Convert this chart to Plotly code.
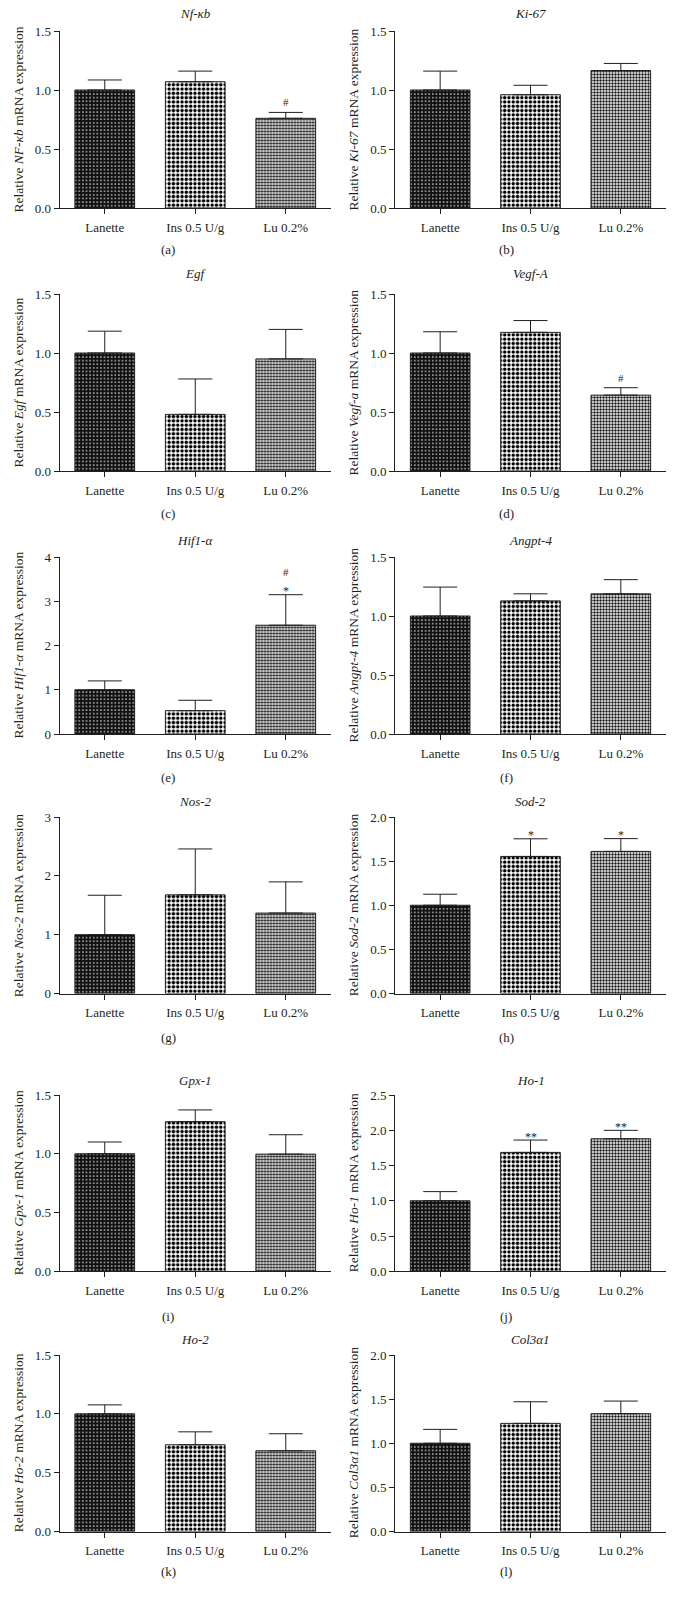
import plotly.graph_objects as go

# ---------------- data ----------------
categories = ["Lanette", "Ins 0.5 U/g", "Lu 0.2%"]

titles = ["Nf-κb", "Ki-67", "Egf", "Vegf-A", "Hif1-α", "Angpt-4",
          "Nos-2", "Sod-2", "Gpx-1", "Ho-1", "Ho-2", "Col3α1"]
ylabel_genes = ["NF-κb", "Ki-67", "Egf", "Vegf-a", "Hif1-α", "Angpt-4",
                "Nos-2", "Sod-2", "Gpx-1", "Ho-1", "Ho-2", "Col3α1"]
panel_letters = ["(a)", "(b)", "(c)", "(d)", "(e)", "(f)",
                 "(g)", "(h)", "(i)", "(j)", "(k)", "(l)"]

mean_nfkb = [1.00, 1.07, 0.76]
sem_nfkb = [0.085, 0.09, 0.05]
mean_ki67 = [1.00, 0.96, 1.165]
sem_ki67 = [0.16, 0.08, 0.06]
mean_egf = [1.00, 0.48, 0.95]
sem_egf = [0.185, 0.30, 0.25]
mean_vegfa = [1.00, 1.175, 0.643]
sem_vegfa = [0.18, 0.10, 0.063]
mean_hif1a = [1.00, 0.527, 2.458]
sem_hif1a = [0.20, 0.235, 0.69]
mean_angpt4 = [1.00, 1.128, 1.188]
sem_angpt4 = [0.245, 0.06, 0.12]
mean_nos2 = [1.00, 1.677, 1.367]
sem_nos2 = [0.67, 0.78, 0.53]
mean_sod2 = [1.00, 1.553, 1.61]
sem_sod2 = [0.125, 0.20, 0.145]
mean_gpx1 = [1.00, 1.273, 0.997]
sem_gpx1 = [0.10, 0.10, 0.165]
mean_ho1 = [1.00, 1.686, 1.879]
sem_ho1 = [0.13, 0.175, 0.12]
mean_ho2 = [1.00, 0.737, 0.686]
sem_ho2 = [0.076, 0.11, 0.145]
mean_col3a1 = [1.00, 1.225, 1.335]
sem_col3a1 = [0.157, 0.245, 0.143]

sig_nfkb = [[], [], ["#"]]
sig_vegfa = [[], [], ["#"]]
sig_hif1a = [[], [], ["*", "#"]]
sig_sod2 = [[], ["*"], ["*"]]
sig_ho1 = [[], ["**"], ["**"]]
sig_none = [[], [], []]

y_max = [1.5, 1.5, 1.5, 1.5, 4, 1.5, 3, 2.0, 1.5, 2.5, 1.5, 2.0]
y_step = [0.5, 0.5, 0.5, 0.5, 1, 0.5, 1, 0.5, 0.5, 0.5, 0.5, 0.5]

means = [mean_nfkb, mean_ki67, mean_egf, mean_vegfa, mean_hif1a, mean_angpt4,
         mean_nos2, mean_sod2, mean_gpx1, mean_ho1, mean_ho2, mean_col3a1]
sems = [sem_nfkb, sem_ki67, sem_egf, sem_vegfa, sem_hif1a, sem_angpt4,
        sem_nos2, sem_sod2, sem_gpx1, sem_ho1, sem_ho2, sem_col3a1]
sigs = [sig_nfkb, sig_none, sig_none, sig_vegfa, sig_hif1a, sig_none,
        sig_none, sig_sod2, sig_none, sig_ho1, sig_none, sig_none]

# ---------------- layout geometry (pixels) ----------------
W, H = 675, 1601
FONT = "Liberation Serif"
INK = "#231f20"
col_x = [(59.5, 331.0), (395.0, 666.0)]
row_y = [(31, 208), (294, 471), (557, 734), (817, 993.5), (1095, 1271.3), (1355, 1531.5)]
title_y = [13, 273, 540, 801, 1080, 1339]
label_y = [250, 513, 777, 1037, 1316, 1571]
label_x = [168, 506]
ytitle_x = [18, 353]


def px(x):
    return x / W


def py(y):
    return 1 - y / H


fig = go.Figure()
annotations = []

pat_shape = [".", ".", "."]
pat_bg = ["#111111", "#ffffff", "#ffffff"]
pat_fg = ["#ffffff", "#000000", "#1a1a1a"]
pat_size = [3.6, 4.3, 3]
pat_sol = [0.14, 0.5, 0.5]

for i in range(12):
    r, c = divmod(i, 2)
    n = i + 1
    xa = "x" if n == 1 else f"x{n}"
    ya = "y" if n == 1 else f"y{n}"
    fig.add_trace(go.Bar(
        x=categories, y=means[i], xaxis=xa, yaxis=ya,
        marker=dict(color="white",
                    line=dict(color=INK, width=1),
                    pattern=dict(shape=pat_shape, bgcolor=pat_bg, fgcolor=pat_fg,
                                 size=pat_size, solidity=pat_sol, fgopacity=1)),
        error_y=dict(type="data", symmetric=False, array=sems[i],
                     arrayminus=[0, 0, 0], color=INK, thickness=1, width=17),
        showlegend=False, hoverinfo="skip",
    ))
    x0, x1 = col_x[c]
    y0, y1 = row_y[r]
    step = y_step[i]
    nt = int(round(y_max[i] / step))
    tv = [k * step for k in range(nt + 1)]
    fmt = ".1f" if step < 1 else "d"
    fig.update_layout(**{
        ("xaxis" if n == 1 else f"xaxis{n}"): dict(
            domain=[px(x0), px(x1)], anchor=ya, type="category",
            range=[-0.5, 2.5], showline=True, linecolor=INK, linewidth=1,
            ticks="outside", ticklen=5, tickwidth=1, tickcolor=INK,
            showgrid=False, zeroline=False, ticklabelstandoff=2, automargin=False,
            tickfont=dict(family=FONT, size=13, color=INK), fixedrange=True),
        ("yaxis" if n == 1 else f"yaxis{n}"): dict(
            domain=[py(y1), py(y0)], anchor=xa, range=[0, y_max[i]],
            tickvals=tv, tickformat=fmt, showline=True, linecolor=INK, linewidth=1,
            ticks="outside", ticklen=5, tickwidth=1, tickcolor=INK,
            showgrid=False, zeroline=False, automargin=False,
            tickfont=dict(family=FONT, size=13, color=INK), fixedrange=True),
    })
    # panel title
    annotations.append(dict(text=f"<i>{titles[i]}</i>", x=px((x0 + x1) / 2), y=py(title_y[r]),
                            xref="paper", yref="paper", showarrow=False,
                            xanchor="center", yanchor="middle",
                            font=dict(family=FONT, size=13, color=INK)))
    # y-axis title
    annotations.append(dict(text=f"Relative <i>{ylabel_genes[i]}</i> mRNA expression",
                            x=px(ytitle_x[c]), y=py((y0 + y1) / 2), xref="paper", yref="paper",
                            showarrow=False, textangle=-90, xanchor="center", yanchor="middle",
                            font=dict(family=FONT, size=13.5, color=INK)))
    # panel letter
    annotations.append(dict(text=panel_letters[i], x=px(label_x[c]), y=py(label_y[r]),
                            xref="paper", yref="paper", showarrow=False,
                            xanchor="center", yanchor="middle",
                            font=dict(family=FONT, size=13, color=INK)))
    # significance marks
    for j, stack in enumerate(sigs[i]):
        pos = 0
        for k, sym in enumerate(stack):
            if k == 0:
                pos += 6 if sym.startswith("*") else 10
            else:
                pos += 17
            shift = pos - (2.5 if sym.startswith("*") else 0)
            annotations.append(dict(text=sym, x=categories[j], y=means[i][j] + sems[i][j],
                                    xref=xa, yref=ya, showarrow=False,
                                    xanchor="center", yanchor="middle", yshift=shift,
                                    font=dict(family=FONT, size=11 if sym == "#" else 12, color=INK)))

fig.update_layout(width=W, height=H, margin=dict(l=0, r=0, t=0, b=0, autoexpand=False),
                  paper_bgcolor="white", plot_bgcolor="white",
                  bargap=0.34, showlegend=False, annotations=annotations,
                  font=dict(family=FONT, color=INK))

fig.write_html("out.html", config={"displayModeBar": False, "staticPlot": True},
               post_script="document.body.style.margin='0px';document.body.style.overflow='hidden';")
